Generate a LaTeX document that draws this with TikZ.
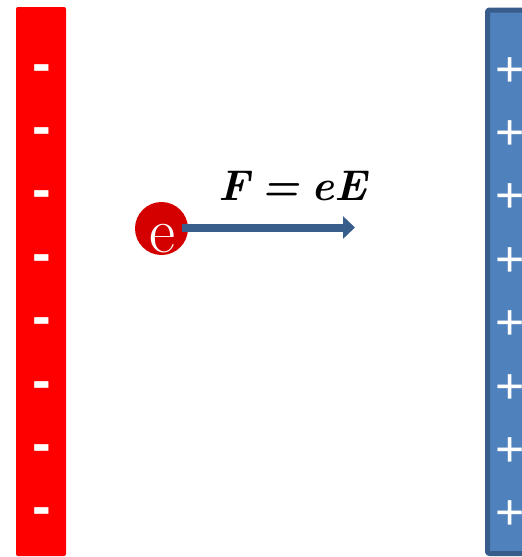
\documentclass[tikz,border=0pt]{standalone}
\usepackage{fontspec}
\newfontfamily\signfont{Liberation Sans}
\usetikzlibrary{arrows.meta}
\definecolor{plateneg}{HTML}{FF0000}
\definecolor{platepos}{HTML}{4F81BD}
\definecolor{plateedge}{HTML}{385D8A}
\definecolor{electroncol}{HTML}{D40000}
\definecolor{forcecol}{HTML}{3A5E8C}
\tikzset{
  minussign/.style={white, inner sep=0pt, anchor=base, font=\signfont\bfseries\fontsize{56}{56}\selectfont},
  plussign/.style={white, inner sep=0pt, anchor=base, font=\signfont\fontsize{50}{50}\selectfont},
}
\begin{document}
\begin{tikzpicture}[x=1pt, y=-1pt, line join=round]
    \useasboundingbox (0,0) rectangle (522,557);
    \clip (0,0) rectangle (522,557);

    % 两块极板
    \fill[plateneg, rounded corners=2pt] (16,7) rectangle (66,556);
    \draw[plateedge, fill=platepos, line width=5pt, rounded corners=2pt] (487.5,10) rectangle (540,553.5);

    % 极板上的电荷符号
    \foreach \i in {0,...,7} {
        \pgfmathsetmacro\sy{68+63.4*\i}
        \node[minussign] (minus\i) at (41.5,\sy+14) {-};
        \node[plussign] (plus\i) at (510,\sy+18) {+};
    }

    % 电子
    \node[circle, fill=electroncol, minimum size=53pt, inner sep=0pt] (e) at (161.5,228.5) {};
    \node[white, anchor=base, inner sep=0pt, font=\fontsize{64}{64}\selectfont] (elabel) at (162.5,252) {e};

    % 电场力
    \coordinate (tip) at (355,227.5);
    \draw[forcecol, line width=8pt, -{Triangle[length=12pt,width=22pt]}] ([xshift=-6pt]e.east |- tip) -- (tip);
    \node[anchor=base, inner sep=0pt, font=\fontsize{43}{43}\selectfont\bfseries\itshape] (force) at (293,200) {F\hspace{0.28em}=\hspace{0.28em}eE};
\end{tikzpicture}
\end{document}
